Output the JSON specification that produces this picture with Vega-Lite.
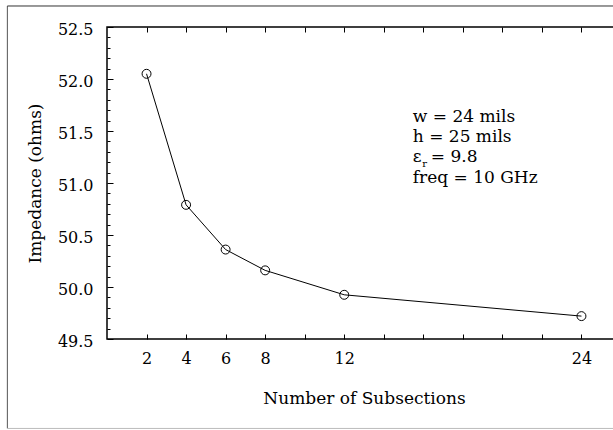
{
  "$schema": "https://vega.github.io/schema/vega-lite/v6.json",
  "autosize": {"type": "none"},
  "width": 514,
  "height": 312,
  "padding": {"left": 107, "top": 27, "right": 0, "bottom": 91},
  "background": "white",
  "config": {
    "view": {"stroke": "black", "strokeWidth": 1.5},
    "font": "DejaVu Serif",
    "text": {"font": "DejaVu Serif", "fontWeight": "normal", "color": "black"},
    "axis": {
      "labelFont": "DejaVu Serif",
      "titleFont": "DejaVu Serif",
      "labelColor": "black",
      "titleColor": "black",
      "tickColor": "black",
      "domainColor": "black",
      "labelFontSize": 16,
      "titleFontSize": 17,
      "titleFontWeight": "normal",
      "grid": false
    }
  },
  "data": {
    "values": [
      {"subsections": 2, "impedance": 52.05},
      {"subsections": 4, "impedance": 50.79},
      {"subsections": 6, "impedance": 50.36},
      {"subsections": 8, "impedance": 50.16},
      {"subsections": 12, "impedance": 49.925},
      {"subsections": 24, "impedance": 49.72}
    ]
  },
  "resolve": {"axis": {"x": "independent", "y": "independent"}},
  "layer": [
    {
      "data": {"values": [{}]},
      "mark": {"type": "rule", "color": "#555", "strokeWidth": 1, "clip": false},
      "encoding": {
        "x": {"datum": -5.04, "type": "quantitative", "scale": {"domain": [0, 26]}, "axis": null},
        "y": {"datum": 52.702, "type": "quantitative", "scale": {"domain": [49.5, 52.5]}, "axis": null},
        "y2": {"datum": 48.64}
      }
    },
    {
      "data": {"values": [{}]},
      "mark": {"type": "rule", "color": "#333", "strokeWidth": 1, "clip": false},
      "encoding": {
        "x": {"datum": -5.04, "type": "quantitative", "scale": {"domain": [0, 26]}, "axis": null},
        "x2": {"datum": 27},
        "y": {"datum": 52.702, "type": "quantitative", "scale": {"domain": [49.5, 52.5]}, "axis": null}
      }
    },
    {
      "data": {"values": [{}]},
      "mark": {"type": "rule", "color": "#bbb", "strokeWidth": 1, "clip": false},
      "encoding": {
        "x": {"datum": -5.04, "type": "quantitative", "scale": {"domain": [0, 26]}, "axis": null},
        "x2": {"datum": 27},
        "y": {"datum": 48.64, "type": "quantitative", "scale": {"domain": [49.5, 52.5]}, "axis": null}
      }
    },
    {
      "mark": {"type": "line", "color": "black", "strokeWidth": 1},
      "encoding": {
        "x": {
          "field": "subsections",
          "type": "quantitative",
          "scale": {"domain": [0, 26]},
          "axis": {
            "orient": "bottom",
            "title": "Number of Subsections",
            "values": [2, 4, 6, 8, 10, 12, 14, 16, 18, 20, 22, 24, 26],
            "labelExpr": "(datum.value == 10 || datum.value > 12 && datum.value < 24 || datum.value > 24) ? '' : datum.label",
            "tickSize": -5,
            "labelPadding": 16,
            "titlePadding": 24,
            "domain": false,
            "labelFlush": false
          }
        },
        "y": {
          "field": "impedance",
          "type": "quantitative",
          "scale": {"domain": [49.5, 52.5]},
          "axis": {
            "orient": "left",
            "title": "Impedance (ohms)",
            "values": [49.5, 49.6, 49.7, 49.8, 49.9, 50.0, 50.1, 50.2, 50.3, 50.4, 50.5, 50.6, 50.7, 50.8, 50.9, 51.0, 51.1, 51.2, 51.3, 51.4, 51.5, 51.6, 51.7, 51.8, 51.9, 52.0, 52.1, 52.2, 52.3, 52.4, 52.5],
            "format": ".1f",
            "labelExpr": "abs(datum.value * 2 - round(datum.value * 2)) < 0.001 ? datum.label : ''",
            "tickSize": {"condition": {"test": "abs(datum.value * 2 - round(datum.value * 2)) < 0.001", "value": -6}, "value": -3},
            "labelPadding": 20,
            "labelOffset": 2,
            "titlePadding": 13,
            "domain": false,
            "labelFlush": false
          }
        }
      }
    },
    {
      "mark": {"type": "point", "shape": "circle", "filled": false, "color": "black", "strokeWidth": 1, "size": 80, "opacity": 1},
      "encoding": {
        "x": {
          "field": "subsections",
          "type": "quantitative",
          "scale": {"domain": [0, 26]},
          "axis": {
            "orient": "top",
            "title": null,
            "values": [2, 4, 6, 8, 10, 12, 14, 16, 18, 20, 22, 24, 26],
            "labels": false,
            "tickSize": -5,
            "domain": false
          }
        },
        "y": {"field": "impedance", "type": "quantitative", "scale": {"domain": [49.5, 52.5]}, "axis": null}
      }
    },
    {
      "data": {"values": [{}]},
      "mark": {"type": "text", "align": "left", "baseline": "alphabetic", "fontSize": 17, "clip": false},
      "encoding": {
        "x": {"datum": 15.47, "type": "quantitative", "scale": {"domain": [0, 26]}, "axis": null},
        "y": {"datum": 51.587, "type": "quantitative", "scale": {"domain": [49.5, 52.5]}, "axis": null},
        "text": {"value": "w = 24 mils"}
      }
    },
    {
      "data": {"values": [{}]},
      "mark": {"type": "text", "align": "left", "baseline": "alphabetic", "fontSize": 17, "clip": false},
      "encoding": {
        "x": {"datum": 15.47, "type": "quantitative", "scale": {"domain": [0, 26]}, "axis": null},
        "y": {"datum": 51.394, "type": "quantitative", "scale": {"domain": [49.5, 52.5]}, "axis": null},
        "text": {"value": "h = 25 mils"}
      }
    },
    {
      "data": {"values": [{}]},
      "mark": {"type": "text", "align": "left", "baseline": "alphabetic", "fontSize": 17, "clip": false},
      "encoding": {
        "x": {"datum": 15.47, "type": "quantitative", "scale": {"domain": [0, 26]}, "axis": null},
        "y": {"datum": 51.202, "type": "quantitative", "scale": {"domain": [49.5, 52.5]}, "axis": null},
        "text": {"value": "ε"}
      }
    },
    {
      "data": {"values": [{}]},
      "mark": {"type": "text", "align": "left", "baseline": "alphabetic", "fontSize": 10, "dx": 9.5, "dy": 5, "clip": false},
      "encoding": {
        "x": {"datum": 15.47, "type": "quantitative", "scale": {"domain": [0, 26]}, "axis": null},
        "y": {"datum": 51.202, "type": "quantitative", "scale": {"domain": [49.5, 52.5]}, "axis": null},
        "text": {"value": "r"}
      }
    },
    {
      "data": {"values": [{}]},
      "mark": {"type": "text", "align": "left", "baseline": "alphabetic", "fontSize": 17, "dx": 18, "clip": false},
      "encoding": {
        "x": {"datum": 15.47, "type": "quantitative", "scale": {"domain": [0, 26]}, "axis": null},
        "y": {"datum": 51.202, "type": "quantitative", "scale": {"domain": [49.5, 52.5]}, "axis": null},
        "text": {"value": "= 9.8"}
      }
    },
    {
      "data": {"values": [{}]},
      "mark": {"type": "text", "align": "left", "baseline": "alphabetic", "fontSize": 17, "clip": false},
      "encoding": {
        "x": {"datum": 15.47, "type": "quantitative", "scale": {"domain": [0, 26]}, "axis": null},
        "y": {"datum": 51.0, "type": "quantitative", "scale": {"domain": [49.5, 52.5]}, "axis": null},
        "text": {"value": "freq = 10 GHz"}
      }
    }
  ]
}
